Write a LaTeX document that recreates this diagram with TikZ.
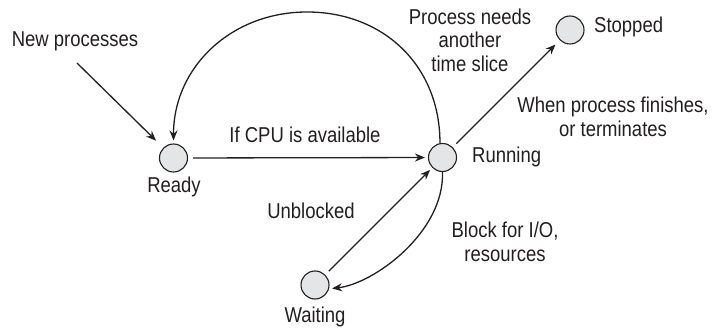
\documentclass[tikz,border=0pt]{standalone}
\usepackage{fontspec}
\setmainfont{Liberation Sans}[FakeStretch=0.86]
\usetikzlibrary{arrows.meta}
\definecolor{ink}{RGB}{35,31,32}
\definecolor{dotfill}{RGB}{228,229,231}
\begin{document}
\begin{tikzpicture}[x=1pt,y=-1pt,
  state/.style={circle,draw=ink,fill=dotfill,line width=1.1pt,minimum size=28pt,inner sep=0pt},
  lbl/.style={text=ink,font=\fontsize{21.5}{23.5}\selectfont,align=center,inner sep=0pt},
  conn/.style={draw=ink,line width=1.3pt,-{Stealth[length=10pt,width=8pt]}}]
\useasboundingbox (0,0) rectangle (712,331);
\node[state] (ready) at (173.5,158) {};
\node[state] (running) at (442.5,157.5) {};
\node[state] (stopped) at (570,30) {};
\node[state] (waiting) at (315,285) {};
\coordinate (np) at (77,63);
\coordinate (arctop) at (307,12);
\node[lbl] (lnew) at (75,41) {New processes};
\node[lbl] (lcpu) at (305,135) {If CPU is available};
\node[lbl] (lready) at (174,187) {Ready};
\node[lbl,anchor=west] (lrun) at (472,157) {Running};
\node[lbl,anchor=west] (lstop) at (594,27) {Stopped};
\node[lbl] (lslice) at (470,40) {Process needs\\another\\time slice};
\node[lbl] (lfin) at (613,117) {When process finishes,\\or terminates};
\node[lbl] (lunb) at (311,211) {Unblocked};
\node[lbl] (lblock) at (505,242) {Block for I/O,\\resources};
\node[lbl] (lwait) at (315,317) {Waiting};
\draw[conn,shorten >=10pt] (np) -- (ready.135);
\draw[conn,shorten <=5pt,shorten >=3pt] (ready) -- (running);
\draw[conn,shorten <=5pt,shorten >=3pt] (waiting) -- (running);
\draw[conn,shorten <=5pt,shorten >=6pt] (running) -- (stopped);
\draw[conn,shorten >=3pt] (running.100) .. controls +(0,-78) and +(76,0) .. (arctop) .. controls +(-76,0) and +(0,-76) .. (ready.north);
\draw[conn,shorten >=3pt] (running.south) .. controls +(2,60) and +(45,-5) .. (waiting.-15);
\end{tikzpicture}
\end{document}
